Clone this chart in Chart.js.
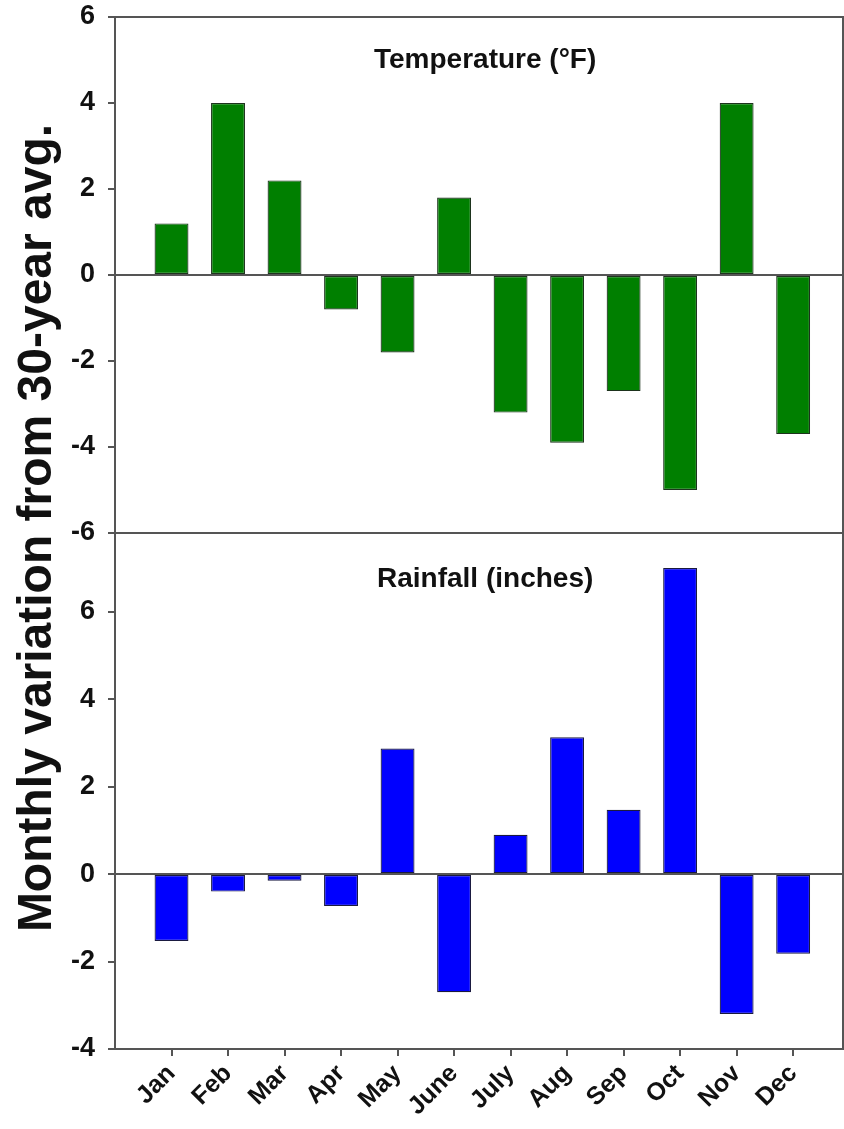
<!DOCTYPE html>
<html>
<head>
<meta charset="utf-8">
<script src="https://cdn.jsdelivr.net/npm/chart.js@4.4.0/dist/chart.umd.min.js"></script>
<style>
  body { margin: 0; background: #fff; }
  #wrap { width: 844px; height: 1129px; position: relative; }
</style>
</head>
<body>
<div id="wrap"><canvas id="climatechart"></canvas></div>
<script>
const months = ["Jan", "Feb", "Mar", "Apr", "May", "June", "July", "Aug", "Sep", "Oct", "Nov", "Dec"];
const tempDiff = [1.2, 4.0, 2.2, -0.8, -1.8, 1.8, -3.2, -3.9, -2.7, -5.0, 4.0, -3.7];
const rainDiff = [-1.53, -0.4, -0.15, -0.73, 2.87, -2.7, 0.9, 3.13, 1.47, 7.0, -3.2, -1.82];
const tempTicks = [-6, -4, -2, 0, 2, 4, 6];
const rainTicks = [-4, -2, 0, 2, 4, 6];
const panelTitles = ["Temperature (°F)", "Rainfall (inches)"];
const yTitle = "Monthly variation from 30-year avg.";

const FONT = '"Liberation Sans", Arial, sans-serif';
const LINE = '#555';

// titles inside the panels, the y title and the right frame line
const panelText = {
  id: 'panelText',
  afterDatasetsDraw(chart) {
    const {ctx, chartArea, scales} = chart;
    ctx.save();
    ctx.strokeStyle = LINE;
    ctx.lineWidth = 2;
    ctx.beginPath();
    ctx.moveTo(chartArea.right - 1, chartArea.top);
    ctx.lineTo(chartArea.right - 1, chartArea.bottom);
    ctx.stroke();

    ctx.fillStyle = '#111';
    ctx.textAlign = 'center';
    ctx.textBaseline = 'middle';
    ctx.font = 'bold 28px ' + FONT;
    ctx.fillText(panelTitles[0], scales.x.getPixelForValue(6.55), scales.yTop.getPixelForValue(5.0));
    ctx.fillText(panelTitles[1], scales.x.getPixelForValue(6.55), scales.yBot.getPixelForValue(6.75));

    ctx.translate(38, (chartArea.top + chartArea.bottom) / 2 - 5);
    ctx.rotate(-Math.PI / 2);
    ctx.font = 'bold 48px ' + FONT;
    ctx.fillText(yTitle, 0, 0);
    ctx.restore();
  }
};

function lineAt(values) {
  return (c) => (c.tick && values.includes(c.tick.value)) ? LINE : 'rgba(0,0,0,0)';
}

function fixY(s) {
  s.width = 115;
  s.paddingTop = 0;
  s.paddingBottom = 0;
}

const ctx = document.getElementById('climatechart');

new Chart(ctx, {
  type: 'bar',
  data: {
    datasets: [{
      label: 'Temperature',
      data: months.map((m, i) => ({x: i + 1, y: tempDiff[i]})),
      yAxisID: 'yTop',
      backgroundColor: '#007f00',
      borderColor: '#1d331d',
      borderWidth: 1.2,
      borderSkipped: false,
    }, {
      label: 'Rainfall',
      data: months.map((m, i) => ({x: i + 1, y: rainDiff[i]})),
      yAxisID: 'yBot',
      backgroundColor: '#0000ff',
      borderColor: '#1a1a40',
      borderWidth: 1.2,
      borderSkipped: false,
    }]
  },
  options: {
    maintainAspectRatio: false,
    animation: false,
    grouped: false,
    barPercentage: 0.6,
    categoryPercentage: 1,
    layout: { padding: { top: 17, right: 0, left: 0, bottom: 0 } },
    plugins: {
      legend: { display: false },
      tooltip: { enabled: false },
    },
    scales: {
      x: {
        type: 'linear',
        offset: false,
        min: 0,
        max: 12.9,
        afterBuildTicks: (s) => { s.ticks = months.map((m, i) => ({value: i + 1})); },
        afterFit: (s) => { s.height = 80; s.paddingLeft = 0; s.paddingRight = 0; },
        border: { display: true, color: LINE, width: 2 },
        grid: { offset: false, drawOnChartArea: false, drawTicks: true, tickLength: 7, tickColor: LINE, lineWidth: 2 },
        ticks: {
          autoSkip: false,
          minRotation: 45,
          maxRotation: 45,
          padding: 3,
          color: '#111',
          font: { family: FONT, size: 25, weight: 'bold' },
          callback: (v) => months[v - 1],
        }
      },
      yBot: {
        type: 'linear',
        position: 'left',
        stack: 'panels',
        stackWeight: 1,
        min: -4,
        max: 7.8,
        afterBuildTicks: (s) => { s.ticks = rainTicks.map(v => ({value: v})); },
        afterFit: fixY,
        border: { display: true, color: LINE, width: 2 },
        grid: { color: lineAt([0, -4]), lineWidth: 2, tickLength: 7, tickColor: LINE },
        ticks: { padding: 13, color: '#111', font: { family: FONT, size: 27, weight: 'bold' } }
      },
      yTop: {
        type: 'linear',
        position: 'left',
        stack: 'panels',
        stackWeight: 1,
        min: -6,
        max: 6,
        afterBuildTicks: (s) => { s.ticks = tempTicks.map(v => ({value: v})); },
        afterFit: fixY,
        border: { display: true, color: LINE, width: 2 },
        grid: { color: lineAt([0, 6, -6]), lineWidth: 2, tickLength: 7, tickColor: LINE },
        ticks: { padding: 13, color: '#111', font: { family: FONT, size: 27, weight: 'bold' } }
      }
    }
  },
  plugins: [panelText]
});
</script>
</body>
</html>
